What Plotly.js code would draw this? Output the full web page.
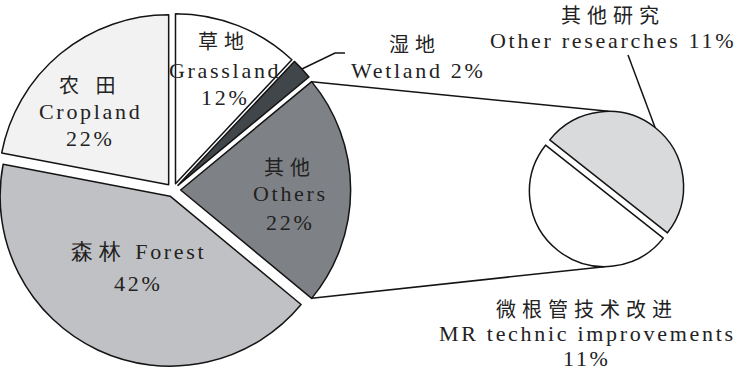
<!DOCTYPE html>
<html><head><meta charset="utf-8">
<script src="https://cdn.plot.ly/plotly-3.0.1.min.js"></script>
<style>
html,body{margin:0;padding:0;overflow:hidden;background:#fff;width:736px;height:372px;}
#wrap{position:relative;width:736px;height:372px;overflow:hidden;}
#chart{position:absolute;left:-10px;top:0;}
</style></head><body><div id="wrap"><div id="chart"></div></div>
<script>
// ---- data ----
const mainLabels = ['Grassland', 'Wetland', 'Others', 'Forest', 'Cropland'];
const mainLabelsCN = ['草地', '湿地', '其他', '森林', '农 田'];
const mainValues = [12, 2, 22, 42, 22];
const subLabels = ['Other researches', 'MR technic improvements'];
const subLabelsCN = ['其他研究', '微根管技术改进'];
const subValues = [11, 11];

// ---- style / geometry ----
const mainColors = ['#ffffff', '#40464a', '#7e8185', '#c0c1c4', '#f2f2f2'];
const subColors = ['#d9dadc', '#ffffff'];
const mainPull = [0.04, 0.04, 0.045, 0.04, 0.04];
const subPull = [0.045, 0.045];
const OX = 10, W = 746, H = 372;
const M = {cx: 173, cy: 190, r: 170, rot: 0, values: mainValues, pull: mainPull};
const S = {cx: 606.5, cy: 189, r: 75, rot: -51.7, values: subValues, pull: subPull};

function domainOf(p) {
  const mp = Math.max(...p.pull);
  const half = p.r * (1 + mp);
  return {
    x: [(p.cx + OX - half) / W, (p.cx + OX + half) / W],
    y: [1 - (p.cy + half) / H, 1 - (p.cy - half) / H]
  };
}
function sliceAngles(p, i) {
  const tot = p.values.reduce((a, b) => a + b, 0);
  let before = 0;
  for (let k = 0; k < i; k++) before += p.values[k];
  const a0 = p.rot + 360 * before / tot;
  const a1 = a0 + 360 * p.values[i] / tot;
  return [a0, (a0 + a1) / 2, a1];
}
function pt(p, i, a, R) {
  const mid = sliceAngles(p, i)[1] * Math.PI / 180;
  const d = p.pull[i] * p.r;
  const ar = a * Math.PI / 180;
  return [p.cx + d * Math.sin(mid) + R * Math.sin(ar), p.cy - d * Math.cos(mid) - R * Math.cos(ar)];
}
const px = x => (x + OX) / W;
const py = y => 1 - y / H;
function line(pts) {
  let path = '';
  pts.forEach((q, k) => { path += (k ? ' L ' : 'M ') + px(q[0]) + ' ' + py(q[1]); });
  return {type: 'path', xref: 'paper', yref: 'paper', path: path,
          line: {color: '#141414', width: 1.5}};
}

const traces = [
  {type: 'pie', labels: mainLabels, values: mainValues, sort: false, direction: 'clockwise',
   rotation: M.rot, pull: mainPull, domain: domainOf(M), textinfo: 'none', hoverinfo: 'none',
   marker: {colors: mainColors, line: {color: '#141414', width: 1.5}}, showlegend: false},
  {type: 'pie', labels: subLabels, values: subValues, sort: false, direction: 'clockwise',
   rotation: S.rot, pull: subPull, domain: domainOf(S), textinfo: 'none', hoverinfo: 'none',
   marker: {colors: subColors, line: {color: '#141414', width: 1.5}}, showlegend: false}
];

const iOthers = 2;
const oa = sliceAngles(M, iOthers);
const topA = pt(M, iOthers, oa[0], M.r);
const botA = pt(M, iOthers, oa[2], M.r);
const topB = pt(S, 0, 0, S.r);
const botB = pt(S, 1, 180, S.r);
const iWet = 1;
const wetStart = pt(M, iWet, sliceAngles(M, iWet)[1], M.r);
const orStart = pt(S, 0, sliceAngles(S, 0)[1], S.r);

const shapes = [
  line([topA, topB]),
  line([botA, botB]),
  line([wetStart, [335, 53], [345, 53]]),
  line([orStart, [628, 55]])
];

const SERIF = 'Liberation Serif';
const CJK = 'Noto Sans CJK SC';
const cj = s => '<span style="letter-spacing:6px">' + s + '</span>';
const la = s => '<span style="letter-spacing:2.7px">' + s + '</span>';
const pct = v => v + '%';
// [text, x, y, size, family]
const labels = [
  [cj(mainLabelsCN[0]), 224, 40, 20, CJK], [la(mainLabels[0]), 225, 70, 22, SERIF], [la(pct(mainValues[0])), 225, 97, 22, SERIF],
  [cj(mainLabelsCN[1]), 415, 43, 20, CJK], [la(mainLabels[1] + ' ' + pct(mainValues[1])), 418, 70, 22, SERIF],
  [cj(mainLabelsCN[4]), 90, 84, 20, CJK], [la(mainLabels[4]), 90, 112, 22, SERIF], [la(pct(mainValues[4])), 90, 138, 22, SERIF],
  [cj(mainLabelsCN[2]), 290, 166, 20, CJK], [la(mainLabels[2]), 290, 193, 22, SERIF], [la(pct(mainValues[2])), 290, 222, 22, SERIF],
  [cj(mainLabelsCN[3]) + la(' ' + mainLabels[3]), 138, 252, 22, SERIF], [la(pct(mainValues[3])), 138, 283, 22, SERIF],
  [cj(subLabelsCN[0]), 613, 15, 20, CJK], [la(subLabels[0] + ' ' + pct(subValues[0])), 613, 40, 22, SERIF],
  [cj(subLabelsCN[1]), 587, 308, 20, CJK], [la(subLabels[1]), 587, 333, 22, SERIF], [la(pct(subValues[1])), 587, 358, 22, SERIF]
];
const annotations = labels.map(l => ({
  text: l[0], x: px(l[1]), y: py(l[2]), xref: 'paper', yref: 'paper',
  xanchor: 'center', yanchor: 'middle', showarrow: false,
  font: {family: l[4], size: l[3], color: '#222'}
}));

Plotly.newPlot('chart', traces, {
  width: W, height: H, margin: {l: 0, r: 0, t: 0, b: 0},
  paper_bgcolor: '#fff', plot_bgcolor: '#fff', showlegend: false,
  shapes: shapes, annotations: annotations
}, {staticPlot: true});
</script></body></html>
